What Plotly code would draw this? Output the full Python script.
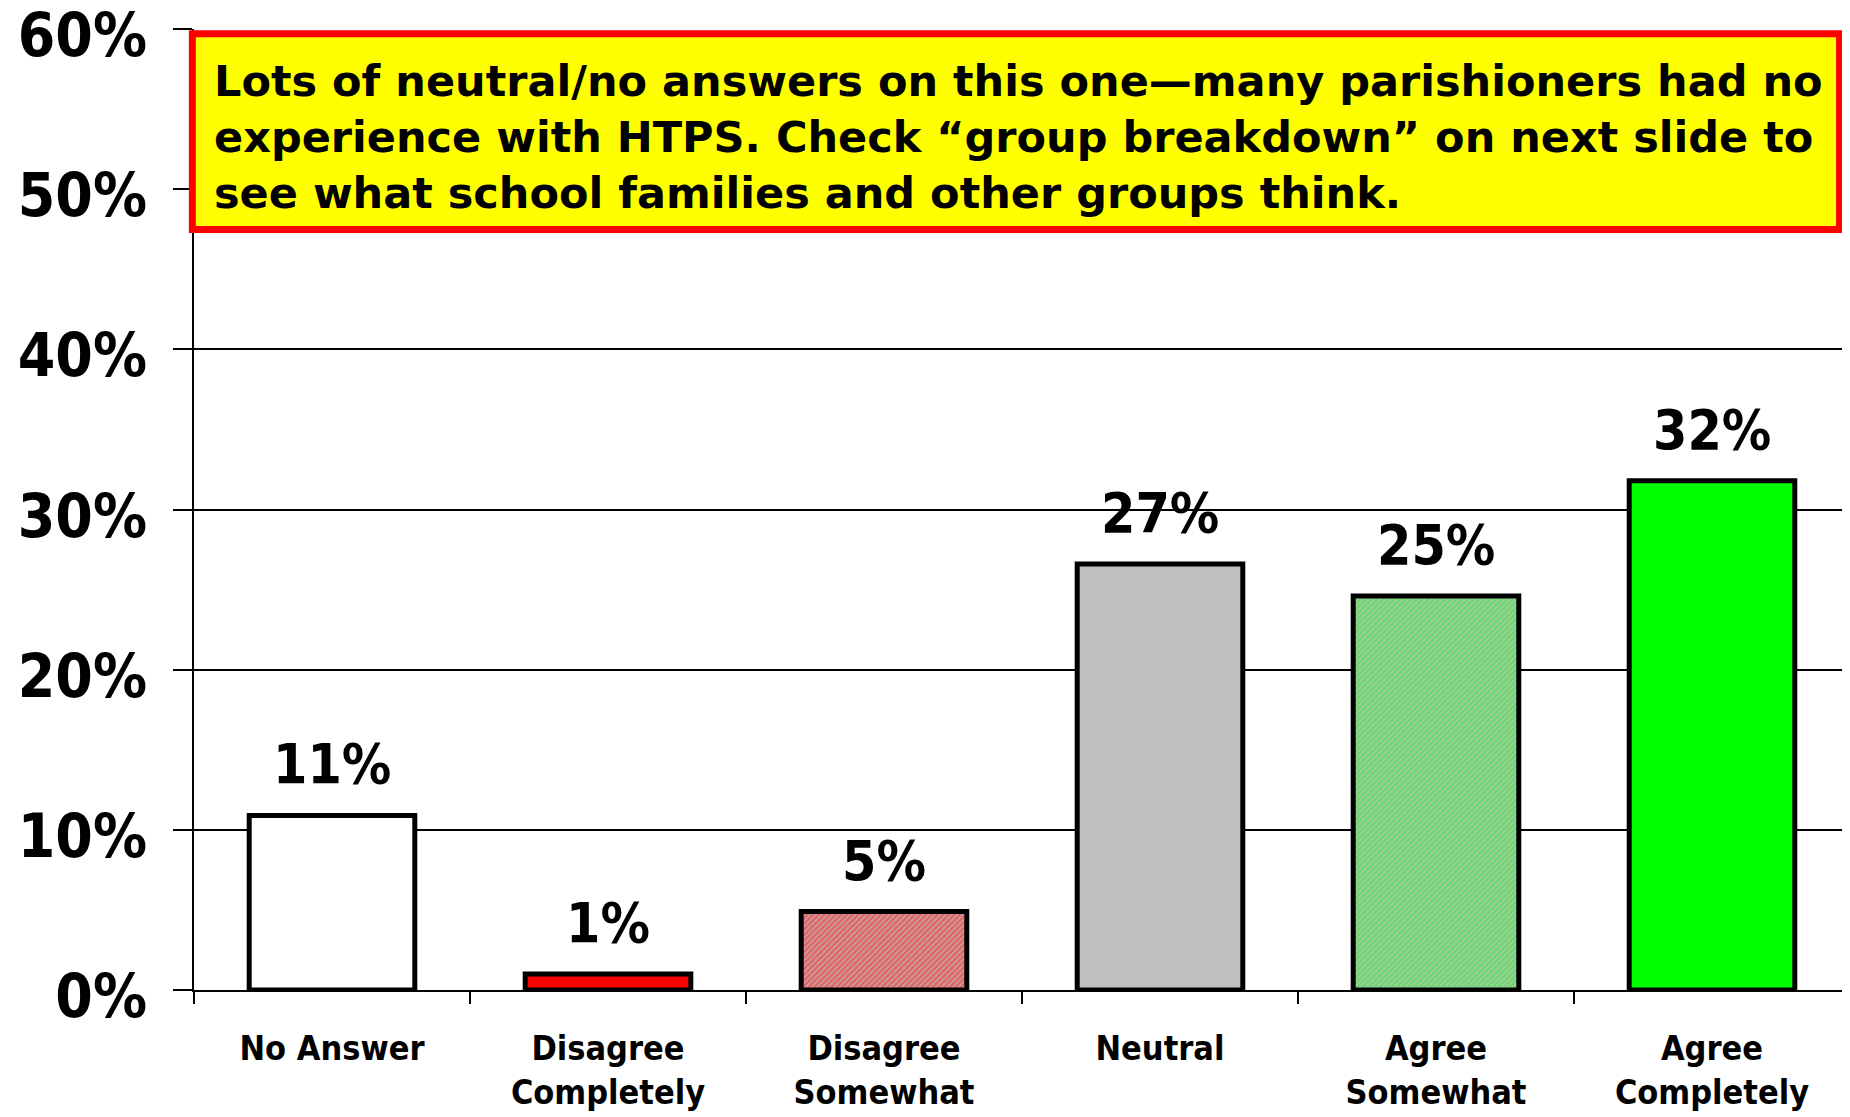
import plotly.graph_objects as go

categories = ["No Answer", "Disagree<br>Completely", "Disagree<br>Somewhat", "Neutral", "Agree<br>Somewhat", "Agree<br>Completely"]
values = [10.9, 1.0, 4.9, 26.6, 24.6, 31.8]
labels = ["11%", "1%", "5%", "27%", "25%", "32%"]
bar_colors = ["#FFFFFF", "#FF0000", "#C8A0A0", "#C0C0C0", "#A8C8A8", "#00FF00"]
pattern_shapes = ["", "", "/", "", "/", ""]
pattern_fg = ["#FFFFFF", "#FF0000", "#FF2020", "#C0C0C0", "#20F020", "#00FF00"]
y_ticks = [0, 10, 20, 30, 40, 50, 60]
y_ticktext = ["0%", "10%", "20%", "30%", "40%", "50%", "60%"]
note_text = ("Lots of neutral/no answers on this one\u2014many parishioners had no<br>"
             "experience with HTPS. Check \u201cgroup breakdown\u201d on next slide to<br>"
             "see what school families and other groups think.")

FONT = "DejaVu Sans Condensed, DejaVu Sans, sans-serif"
NOTE_FONT = "DejaVu Sans, sans-serif"

fig = go.Figure()
for c, v, col, shp, fg in zip(categories, values, bar_colors, pattern_shapes, pattern_fg):
    fig.add_trace(go.Bar(
        x=[c], y=[v], width=0.6,
        marker=dict(color=col, line=dict(color="black", width=5),
                    pattern=dict(shape=shp, fgcolor=fg, bgcolor=col, size=4, solidity=0.55,
                                 fillmode="overlay")),
        hoverinfo="skip",
    ))

for c, v, t in zip(categories, values, labels):
    fig.add_annotation(x=c, y=v, text=t, showarrow=False, yanchor="bottom", yshift=17,
                       font=dict(family=FONT, size=55, color="black", weight="bold"))

fig.add_shape(type="rect", xref="paper", yref="paper", x0=-0.001, x1=0.9937, y0=0.7913, y1=0.995,
              line=dict(color="#FF0000", width=7), fillcolor="#FFFF00", layer="above")
fig.add_annotation(xref="paper", yref="paper", x=0.011, y=0.888, xanchor="left", yanchor="middle",
                   text=note_text, align="left", showarrow=False,
                   font=dict(family=NOTE_FONT, size=43, color="black", weight="bold"))

fig.update_layout(
    width=1842, height=1109,
    margin=dict(l=186, r=0, t=21, b=127),
    paper_bgcolor="white", plot_bgcolor="white",
    showlegend=False, barmode="overlay",
)
fig.update_xaxes(
    type="category", categoryorder="array", categoryarray=categories,
    tickson="boundaries", ticks="outside", ticklen=12, tickwidth=2, tickcolor="black",
    showline=True, linecolor="black", linewidth=2, showgrid=False, automargin=False,
    tickfont=dict(family=FONT, size=34, color="black", weight="bold"),
    ticklabelstandoff=27,
)
fig.update_yaxes(
    range=[0, 60], tickvals=y_ticks, ticktext=y_ticktext, ticks="outside", ticklen=19, tickwidth=2,
    tickcolor="black", showline=True, linecolor="black", linewidth=2, automargin=False,
    showgrid=True, gridcolor="black", gridwidth=1.5, zeroline=False,
    tickfont=dict(family=FONT, size=60, color="black", weight="bold"),
    ticklabelstandoff=14, ticklabelshift=6, ticklabeloverflow="allow",
)

fig.write_html("out.html")
